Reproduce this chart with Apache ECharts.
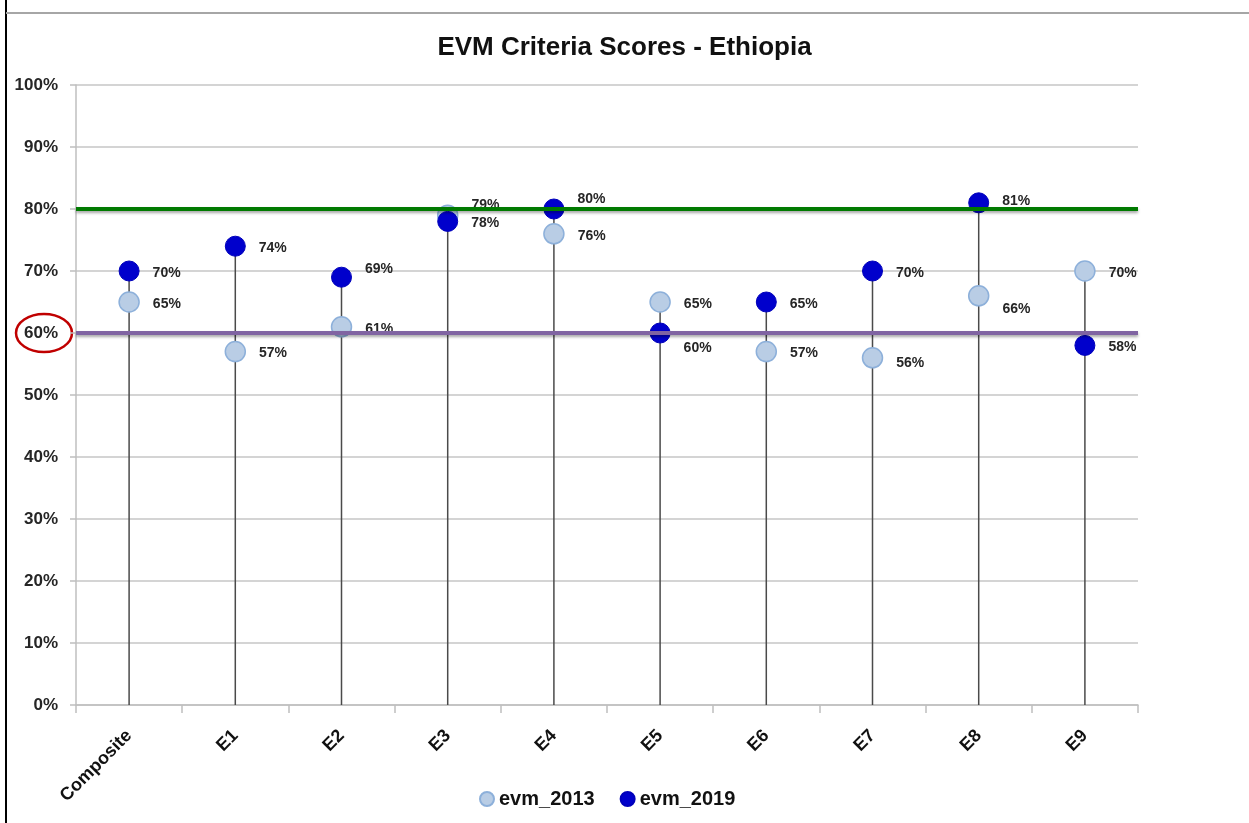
<!DOCTYPE html>
<html><head><meta charset="utf-8">
<script src="https://cdn.jsdelivr.net/npm/echarts@6/dist/echarts.min.js"></script>
<style>html,body{margin:0;padding:0;background:#fff}#c{width:1249px;height:823px}</style>
</head><body><div id="c"></div>
<script>
// ---- data ----
const categories = ['Composite', 'E1', 'E2', 'E3', 'E4', 'E5', 'E6', 'E7', 'E8', 'E9'];
const evm2013 = [65, 57, 61, 79, 76, 65, 57, 56, 66, 70];
const evm2019 = [70, 74, 69, 78, 80, 60, 65, 70, 81, 58];
const targetLines = [80, 60];
const seriesNames = ['evm_2013', 'evm_2019'];
const titleText = 'EVM Criteria Scores - Ethiopia';

// ---- styling helpers (label nudges, not data) ----
const FONT = 'Liberation Sans';
const nudge2013 = {3: -12, 8: 11, 7: 3};
const nudge2019 = {2: -10, 4: -12, 5: 13, 8: -4};

function items(vals, nudges) {
  return vals.map((v, i) => ({
    value: v,
    label: {offset: [0, 2 + (nudges[i] || 0)]}
  }));
}
const stems = categories.map((c, i) => Math.max(evm2013[i], evm2019[i]));

const chart = echarts.init(document.getElementById('c'), null, {renderer: 'canvas'});
const labelStyle = {
  show: true, position: 'right', distance: 13,
  formatter: p => p.value + '%',
  fontFamily: FONT, fontWeight: 'bold', fontSize: 14, color: '#262626'
};
const option = {
  animation: false,
  backgroundColor: '#fff',
  title: {
    text: titleText, left: 'center', top: 30,
    textStyle: {fontFamily: FONT, fontWeight: 'bold', fontSize: 26, color: '#111'}
  },
  legend: {
    data: seriesNames, left: 474, top: 784, icon: 'circle',
    itemWidth: 14, itemHeight: 14, itemGap: 25,
    textStyle: {fontFamily: FONT, fontWeight: 'bold', fontSize: 20, color: '#111'}
  },
  grid: {left: 76, right: 111, top: 85, bottom: 118, containLabel: false},
  xAxis: {
    type: 'category', data: categories, boundaryGap: true,
    axisLine: {lineStyle: {color: '#BFBFBF', width: 1.5}},
    axisTick: {show: true, length: 8, alignWithLabel: false, lineStyle: {color: '#BFBFBF', width: 1.5}},
    axisLabel: {rotate: 45, margin: 28, fontFamily: FONT, fontWeight: 'bold', fontSize: 18, color: '#111', interval: 0},
    splitLine: {show: false}
  },
  yAxis: {
    type: 'value', min: 0, max: 100, interval: 10,
    axisLine: {show: true, lineStyle: {color: '#BFBFBF', width: 1.5}},
    axisTick: {show: true, length: 6, lineStyle: {color: '#BFBFBF', width: 1.5}},
    axisLabel: {formatter: '{value}%', margin: 18, fontFamily: FONT, fontWeight: 'bold', fontSize: 17, color: '#262626'},
    splitLine: {lineStyle: {color: '#C6C6C6', width: 1.5}}
  },
  series: [
    {
      name: 'stems', type: 'bar', data: stems, barWidth: 1.5, silent: true, z: 1,
      itemStyle: {color: '#4a4a4a'}
    },
    {
      name: seriesNames[0], type: 'scatter', data: items(evm2013, nudge2013),
      symbol: 'circle', symbolSize: 20, z: 2,
      itemStyle: {color: '#B9CDE5', borderColor: '#8DB0DA', borderWidth: 1.5, opacity: 1},
      label: labelStyle
    },
    {
      name: seriesNames[1], type: 'scatter', data: items(evm2019, nudge2019),
      symbol: 'circle', symbolSize: 20, z: 3,
      itemStyle: {color: '#0000CC', borderColor: '#0000BB', borderWidth: 1, opacity: 1},
      label: labelStyle
    },
    {
      name: 'targets', type: 'line', data: [], z: 4, silent: true,
      markLine: {
        silent: true, symbol: 'none', label: {show: false},
        lineStyle: {type: 'solid', width: 4, shadowColor: 'rgba(0,0,0,0.35)', shadowBlur: 3, shadowOffsetY: 2},
        data: targetLines.map((v, i) => ({
          yAxis: v,
          lineStyle: {color: i === 0 ? '#007A00' : '#8064A2'}
        }))
      }
    }
  ]
};
chart.setOption(option);

const y60 = chart.convertToPixel({yAxisIndex: 0}, targetLines[1]);
chart.setOption({
  graphic: [
    {type: 'line', silent: true, shape: {x1: 6, y1: 0, x2: 6, y2: 823}, style: {stroke: '#000', lineWidth: 2}},
    {type: 'line', silent: true, shape: {x1: 6, y1: 13, x2: 1249, y2: 13}, style: {stroke: '#A6A6A6', lineWidth: 2}},
    {type: 'ellipse', silent: true, shape: {cx: 44, cy: y60, rx: 28, ry: 19},
     style: {fill: 'none', stroke: '#C00000', lineWidth: 2.5}}
  ]
});
</script>
</body></html>
